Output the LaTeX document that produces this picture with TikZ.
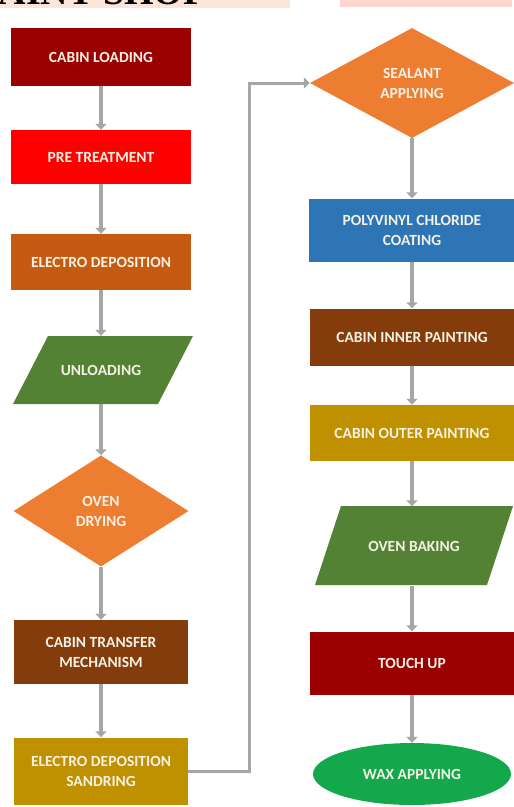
\documentclass[tikz,border=0pt]{standalone}
\usepackage{fontspec}
\setmainfont{Carlito}
\newfontfamily\titlefont{Liberation Serif}
\usepackage{xcolor}
\usetikzlibrary{shapes.geometric}
\usetikzlibrary{arrows.meta}

\definecolor{maroon}{HTML}{9A0000}
\definecolor{brightred}{HTML}{FF0000}
\definecolor{rust}{HTML}{C55A11}
\definecolor{leaf}{HTML}{548235}
\definecolor{tangerine}{HTML}{ED7D31}
\definecolor{chestnut}{HTML}{843C0C}
\definecolor{mustard}{HTML}{BF9000}
\definecolor{steel}{HTML}{2E75B6}
\definecolor{emerald}{HTML}{12A84B}
\definecolor{cream}{HTML}{F4F1E4}
\definecolor{arrowgray}{HTML}{A6A6A6}
\definecolor{peach}{HTML}{FCE6D8}
\definecolor{blush}{HTML}{FFD6CF}

\tikzset{
  stage/.style={rectangle, inner sep=0pt, text=cream, align=center,
    font=\fontsize{15.5}{20}\selectfont\bfseries},
  decision/.style={stage, diamond},
  flow/.style={draw=arrowgray, line width=4pt, -{Triangle[width=11pt,length=6pt]}}
}

\begin{document}
\begin{tikzpicture}[x=1pt,y=-1pt]
\useasboundingbox (0,0) rectangle (514,807);
\fill [white](0,0) rectangle (514,807);

% cut title strip
\fill [peach](0,0) rectangle (290,8);
\fill [blush](340,0) rectangle (512,7);
\begin{scope}
\clip (0,0) rectangle (514,5);
\node [anchor=base west, inner sep=0pt, font=\titlefont\fontsize{38}{38}\selectfont\bfseries] (title) at (-22,4) {PAINT SHOP};
\end{scope}

% parallelogram bodies
\fill [leaf](13,404) -- (48,336) -- (193,336) -- (158,404) -- cycle;
\fill [leaf](315,585) -- (341,506) -- (513,506) -- (487,585) -- cycle;

% left column
\node [stage, fill=maroon, minimum width=180pt, minimum height=58pt] (load) at (101,57) {CABIN LOADING};
\node [stage, fill=brightred, minimum width=180pt, minimum height=54pt] (pre) at (101,157) {PRE TREATMENT};
\node [stage, fill=rust, minimum width=180pt, minimum height=56pt] (ed) at (101,262) {ELECTRO DEPOSITION};
\node [stage, minimum width=110pt, minimum height=68pt] (unload) at (101,370) {UNLOADING};
\node [decision, fill=tangerine, minimum width=175pt, minimum height=111pt] (dry) at (101,511) {OVEN\\DRYING};
\node [stage, fill=chestnut, minimum width=174pt, minimum height=64pt] (transfer) at (101,652) {CABIN TRANSFER\\MECHANISM};
\node [stage, fill=mustard, minimum width=174pt, minimum height=67pt] (sand) at (101,771) {ELECTRO DEPOSITION\\SANDRING};

% right column
\node [decision, fill=tangerine, minimum width=204pt, minimum height=110pt] (seal) at (412,83) {SEALANT\\APPLYING};
\node [stage, fill=steel, minimum width=206pt, minimum height=63pt] (pvc) at (412,230) {POLYVINYL CHLORIDE\\COATING};
\node [stage, fill=chestnut, minimum width=204pt, minimum height=57pt] (inner) at (412,337) {CABIN INNER PAINTING};
\node [stage, fill=mustard, minimum width=204pt, minimum height=56pt] (outer) at (412,433) {CABIN OUTER PAINTING};
\node [stage, minimum width=140pt, minimum height=79pt] (bake) at (414,546) {OVEN BAKING};
\node [stage, fill=maroon, minimum width=204pt, minimum height=63pt] (touch) at (412,663) {TOUCH UP};
\node [stage, ellipse, fill=emerald, minimum width=198pt, minimum height=62pt] (wax) at (412,774) {WAX APPLYING};

\draw [flow](load) -- (pre);
\draw [flow](pre) -- (ed);
\draw [flow](ed) -- (unload);
\draw [flow](unload) -- (dry);
\draw [flow](dry) -- (transfer);
\draw [flow](transfer) -- (sand);
\draw [flow, line width=3pt](sand.east) -- ++(61,0) |- (seal.west);
\draw [flow](seal) -- (pvc);
\draw [flow](pvc) -- (inner);
\draw [flow](inner) -- (outer);
\draw [flow](outer) -- (bake.north -| outer);
\draw [flow](bake.south -| touch) -- (touch);
\draw [flow](touch) -- (wax);
\end{tikzpicture}
\end{document}
